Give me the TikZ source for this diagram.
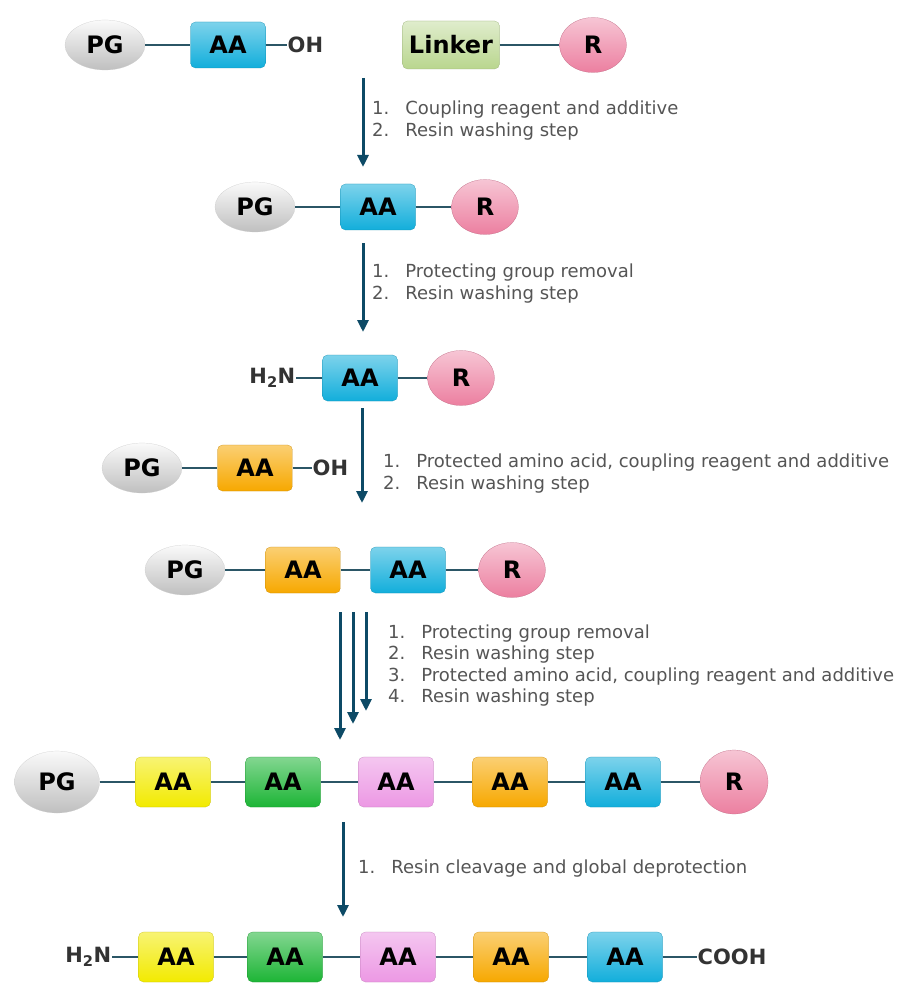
\documentclass[tikz,border=0pt]{standalone}
\usepackage{fontspec}
\setmainfont{DejaVu Sans}
\usepackage{tikz}
\usetikzlibrary{arrows.meta,shapes.geometric}
\definecolor{bondc}{HTML}{2B5666}
\definecolor{arrowc}{HTML}{0D4A66}
\definecolor{stepgray}{HTML}{555555}
\definecolor{endgray}{HTML}{333333}
\definecolor{aablue}{HTML}{12AEDB}
\definecolor{aaorange}{HTML}{F7A800}
\definecolor{aayellow}{HTML}{F2EA00}
\definecolor{aagreen}{HTML}{1DB536}
\definecolor{aapink}{HTML}{EC98E4}
\definecolor{respink}{HTML}{EC7FA0}
\definecolor{linkgreen}{HTML}{B9D68E}

\begin{document}
\begin{tikzpicture}[x=1pt,y=-1pt,
  lbl/.style={font=\bfseries\fontsize{24}{27}\selectfont,text=black,inner sep=0pt},
  pg/.style={lbl,ellipse,minimum width=80pt,minimum height=50pt,top color=gray!4,bottom color=gray!50,draw=gray!40,very thin},
  aa/.style={lbl,rectangle,rounded corners=5pt,minimum width=75pt,minimum height=46pt,top color=#1!55!white,bottom color=#1,draw=#1!80!black,very thin},
  linker/.style={lbl,rectangle,rounded corners=5pt,minimum width=97pt,minimum height=48pt,top color=linkgreen!45!white,bottom color=linkgreen,draw=linkgreen!80!black,very thin},
  res/.style={lbl,ellipse,minimum width=67pt,minimum height=55pt,top color=respink!45!white,bottom color=respink,draw=respink!80!black,very thin},
  endgrp/.style={font=\bfseries\fontsize{21}{24}\selectfont,text=endgray,inner sep=0.5pt},
  link/.style={draw=bondc,line width=2pt},
  arr/.style={draw=arrowc,line width=3pt,-{Triangle[length=12pt,width=11pt]}},
  steps/.style={anchor=west,text=stepgray,inner sep=0pt,font=\fontsize{18}{21.5}\selectfont}]
\useasboundingbox[fill=white] (0,0) rectangle (908,984);

% starting materials
\node[pg] (pga) at (105,45) {PG};
\node[aa=aablue] (aaa) at (228,45) {AA};
\node[endgrp,anchor=west] (oha) at (287,45) {OH};
\node[linker] (lnk) at (451,45) {Linker};
\node[res] (ra) at (593,45) {R};
\draw[link] (pga) -- (aaa);
\draw[link] (aaa) -- (oha);
\draw[link] (lnk) -- (ra);

\coordinate (s1) at (363,78);
\coordinate (e1) at (363,167);
\draw[arr] (s1) -- (e1);
\node[steps] (stepa) at (372,121) {\begin{tabular}{@{}l@{\hspace{16pt}}l@{}}1. & Coupling reagent and additive\\ 2. & Resin washing step\end{tabular}};

% loaded resin
\node[pg] (pgb) at (255,207) {PG};
\node[aa=aablue] (aab) at (378,207) {AA};
\node[res] (rb) at (485,207) {R};
\draw[link] (pgb) -- (aab);
\draw[link] (aab) -- (rb);

\coordinate (s2) at (363,243);
\coordinate (e2) at (363,332);
\draw[arr] (s2) -- (e2);
\node[steps] (stepb) at (372,284) {\begin{tabular}{@{}l@{\hspace{16pt}}l@{}}1. & Protecting group removal\\ 2. & Resin washing step\end{tabular}};

% free amine
\node[endgrp,anchor=east] (nhc) at (296,378) {H\textsubscript{2}N};
\node[aa=aablue] (aac) at (360,378) {AA};
\node[res] (rc) at (461,378) {R};
\draw[link] (nhc) -- (aac);
\draw[link] (aac) -- (rc);

\node[pg] (pgd) at (142,468) {PG};
\node[aa=aaorange] (aad) at (255,468) {AA};
\node[endgrp,anchor=west] (ohd) at (312,468) {OH};
\draw[link] (pgd) -- (aad);
\draw[link] (aad) -- (ohd);

\coordinate (s3) at (362,408);
\coordinate (e3) at (362,503);
\draw[arr] (s3) -- (e3);
\node[steps] (stepc) at (383,474) {\begin{tabular}{@{}l@{\hspace{16pt}}l@{}}1. & Protected amino acid, coupling reagent and additive\\ 2. & Resin washing step\end{tabular}};

% dipeptide
\node[pg] (pge) at (185,570) {PG};
\node[aa=aaorange] (aae) at (303,570) {AA};
\node[aa=aablue] (aaf) at (408,570) {AA};
\node[res] (re) at (512,570) {R};
\draw[link] (pge) -- (aae);
\draw[link] (aae) -- (aaf);
\draw[link] (aaf) -- (re);

\coordinate (s4) at (340,612);
\coordinate (e4) at (340,740);
\coordinate (s5) at (353,612);
\coordinate (e5) at (353,724);
\coordinate (s6) at (366,612);
\coordinate (e6) at (366,711);
\draw[arr] (s4) -- (e4);
\draw[arr] (s5) -- (e5);
\draw[arr] (s6) -- (e6);
\node[steps] (stepd) at (388,666) {\begin{tabular}{@{}l@{\hspace{16pt}}l@{}}1. & Protecting group removal\\ 2. & Resin washing step\\ 3. & Protected amino acid, coupling reagent and additive\\ 4. & Resin washing step\end{tabular}};

% peptide on resin
\node[pg,minimum width=85pt,minimum height=62pt] (pgf) at (57,782) {PG};
\node[aa=aayellow,minimum height=50pt] (aag) at (173,782) {AA};
\node[aa=aagreen,minimum height=50pt] (aah) at (283,782) {AA};
\node[aa=aapink,minimum height=50pt] (aai) at (396,782) {AA};
\node[aa=aaorange,minimum height=50pt] (aaj) at (510,782) {AA};
\node[aa=aablue,minimum height=50pt] (aak) at (623,782) {AA};
\node[res,minimum width=68pt,minimum height=64pt] (rf) at (734,782) {R};
\draw[link] (pgf) -- (aag);
\draw[link] (aag) -- (aah);
\draw[link] (aah) -- (aai);
\draw[link] (aai) -- (aaj);
\draw[link] (aaj) -- (aak);
\draw[link] (aak) -- (rf);

\coordinate (s7) at (343,822);
\coordinate (e7) at (343,917);
\draw[arr] (s7) -- (e7);
\node[steps] (stepe) at (358,869) {\begin{tabular}{@{}l@{\hspace{16pt}}l@{}}1. & Resin cleavage and global deprotection\end{tabular}};

% free peptide
\node[endgrp,anchor=east] (nhg) at (112,957) {H\textsubscript{2}N};
\node[aa=aayellow,minimum height=50pt] (aal) at (176,957) {AA};
\node[aa=aagreen,minimum height=50pt] (aam) at (285,957) {AA};
\node[aa=aapink,minimum height=50pt] (aan) at (398,957) {AA};
\node[aa=aaorange,minimum height=50pt] (aao) at (511,957) {AA};
\node[aa=aablue,minimum height=50pt] (aap) at (625,957) {AA};
\node[endgrp,anchor=west] (coo) at (697,957) {COOH};
\draw[link] (nhg) -- (aal);
\draw[link] (aal) -- (aam);
\draw[link] (aam) -- (aan);
\draw[link] (aan) -- (aao);
\draw[link] (aao) -- (aap);
\draw[link] (aap) -- (coo);
\end{tikzpicture}
\end{document}
